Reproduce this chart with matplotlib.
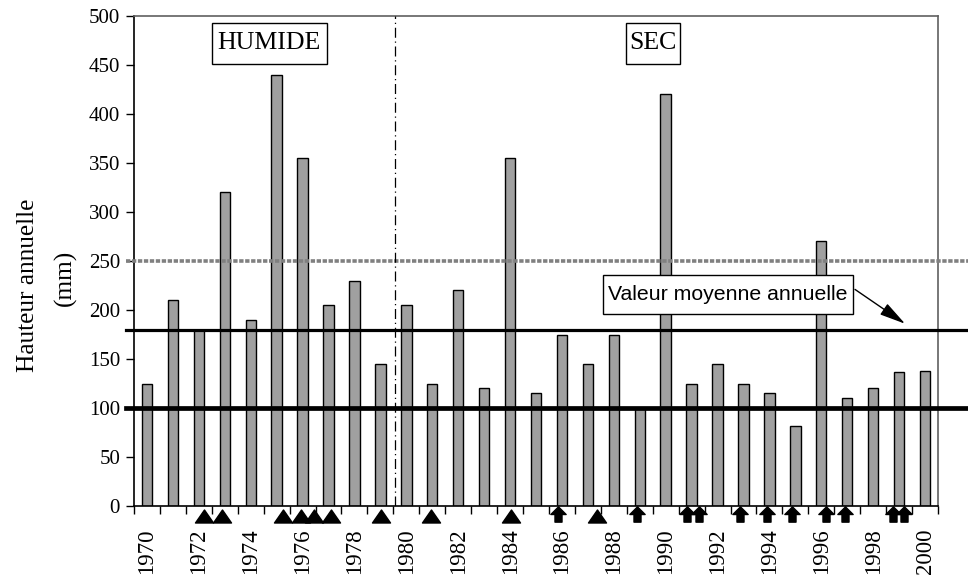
import matplotlib
matplotlib.use("Agg")
import matplotlib.pyplot as plt
from matplotlib.path import Path
import numpy as np

# ---- data ----
years = list(range(1970, 2001))
rainfall = [125, 210, 180, 320, 190, 440, 355, 205, 230, 145,
            205, 125, 220, 120, 355, 115, 174, 145, 174, 100,
            420, 125, 145, 125, 115, 82, 270, 110, 120, 137, 138]
even_labels = [str(y) for y in range(1970, 2001, 2)]
triangle_events = [1972.2, 1972.89, 1975.24, 1975.94, 1976.44, 1977.1,
                   1979.02, 1980.95, 1984.04, 1987.35]
arrow_events = [1985.84, 1988.91, 1990.84, 1991.27, 1992.87, 1993.9,
                1994.86, 1996.17, 1996.9, 1998.78, 1999.19]
mean_value = 180
threshold_low = 100
threshold_high = 250
break_year = 1979.57

serif = ["Liberation Serif", "DejaVu Serif"]
sans = ["Liberation Sans", "DejaVu Sans"]

fig = plt.figure(figsize=(9.68, 5.83), dpi=100)
L, R, B, T = 134 / 968, 938 / 968, (583 - 506) / 583, (583 - 16) / 583
ax = fig.add_axes([L, B, R - L, T - B])

ax.bar(years, rainfall, width=0.4, color="#a0a0a0", edgecolor="black",
       linewidth=1.0, zorder=2)

ax.set_xlim(1969.5, 2000.5)
ax.set_ylim(0, 500)

# horizontal reference lines extending beyond the plot
ax.axhline(threshold_high, xmin=-0.01, xmax=1.04, color="#808080", lw=2.6,
           linestyle=(0, (1.2, 0.45)), clip_on=False, zorder=3)
ax.axhline(mean_value, xmin=-0.01, xmax=1.04, color="black", lw=2.3,
           clip_on=False, zorder=3)
ax.axhline(threshold_low, xmin=-0.01, xmax=1.04, color="black", lw=3.4,
           clip_on=False, zorder=3)

# vertical break line
ax.axvline(break_year, color="black", lw=0.9,
           linestyle=(0, (8, 3, 1, 3)), zorder=3)

# markers below the axis
tri = Path([(-0.5, -0.36), (0.5, -0.36), (0, 0.36), (-0.5, -0.36)],
           [Path.MOVETO, Path.LINETO, Path.LINETO, Path.CLOSEPOLY])
arr_verts = [(0, 0.5), (-0.5, 0.0), (-0.23, 0.0), (-0.23, -0.5),
             (0.23, -0.5), (0.23, 0.0), (0.5, 0.0), (0, 0.5)]
arr = Path(arr_verts, [Path.MOVETO] + [Path.LINETO] * 6 + [Path.CLOSEPOLY])
ax.plot(triangle_events, [-10.5] * len(triangle_events), linestyle="none",
        marker=tri, markersize=13, color="black", clip_on=False, zorder=4)
ax.plot(arrow_events, [-8] * len(arrow_events), linestyle="none",
        marker=arr, markersize=11, color="black", clip_on=False, zorder=4)

# ticks
ax.set_yticks(np.arange(0, 501, 50))
ax.tick_params(axis="y", direction="out", length=6, width=1, pad=4,
               labelsize=15)
for lab in ax.get_yticklabels():
    lab.set_fontfamily(serif)

ax.set_xticks(np.arange(1969.5, 2001, 1.0), minor=True)
ax.set_xticks(list(range(1970, 2001, 2)))
ax.set_xticklabels(even_labels, rotation=90, fontsize=16.5)
for lab in ax.get_xticklabels():
    lab.set_fontfamily(serif)
ax.tick_params(axis="x", which="major", length=0, pad=16)
ax.tick_params(axis="x", which="minor", direction="out", length=6, width=1)

# spines
for s in ["left", "bottom"]:
    ax.spines[s].set_color("black")
    ax.spines[s].set_linewidth(1.2)
for s in ["top", "right"]:
    ax.spines[s].set_color("#606060")
    ax.spines[s].set_linewidth(1.2)

# y label (two lines)
fig.text(28 / 968, 1 - 285 / 583, "Hauteur annuelle", rotation=90,
         ha="center", va="center", fontsize=18.3, family=serif)
fig.text(65 / 968, 1 - 278 / 583, "(mm)", rotation=90,
         ha="center", va="center", fontsize=18.3, family=serif)

# period boxes
box = dict(boxstyle="square,pad=0.22", facecolor="white", edgecolor="black",
           linewidth=1.0, mutation_aspect=1.7)
ax.text(1974.72, 472, "HUMIDE", ha="center", va="center", fontsize=18.6,
        family=serif, bbox=box, zorder=5)
box2 = dict(boxstyle="square,pad=0.12", facecolor="white", edgecolor="black",
            linewidth=1.0, mutation_aspect=3.0)
ax.text(1989.51, 472, "SEC", ha="center", va="center", fontsize=18.6,
        family=serif, bbox=box2, zorder=5)

# mean annotation
ax.annotate("", xy=(1999.23, 186), xytext=(1997.3, 221),
            arrowprops=dict(arrowstyle="-|>,head_length=1.6,head_width=0.4",
                            color="black", lw=1.0, shrinkA=0, shrinkB=0),
            zorder=5)
ax.text(1992.39, 215.7, "Valeur moyenne annuelle", ha="center", va="center",
        fontsize=15.3, family=sans,
        bbox=dict(boxstyle="square,pad=0.25", facecolor="white",
                  edgecolor="black", linewidth=1.0, mutation_aspect=1.85),
        zorder=5)

fig.savefig("out.png", dpi=100)
